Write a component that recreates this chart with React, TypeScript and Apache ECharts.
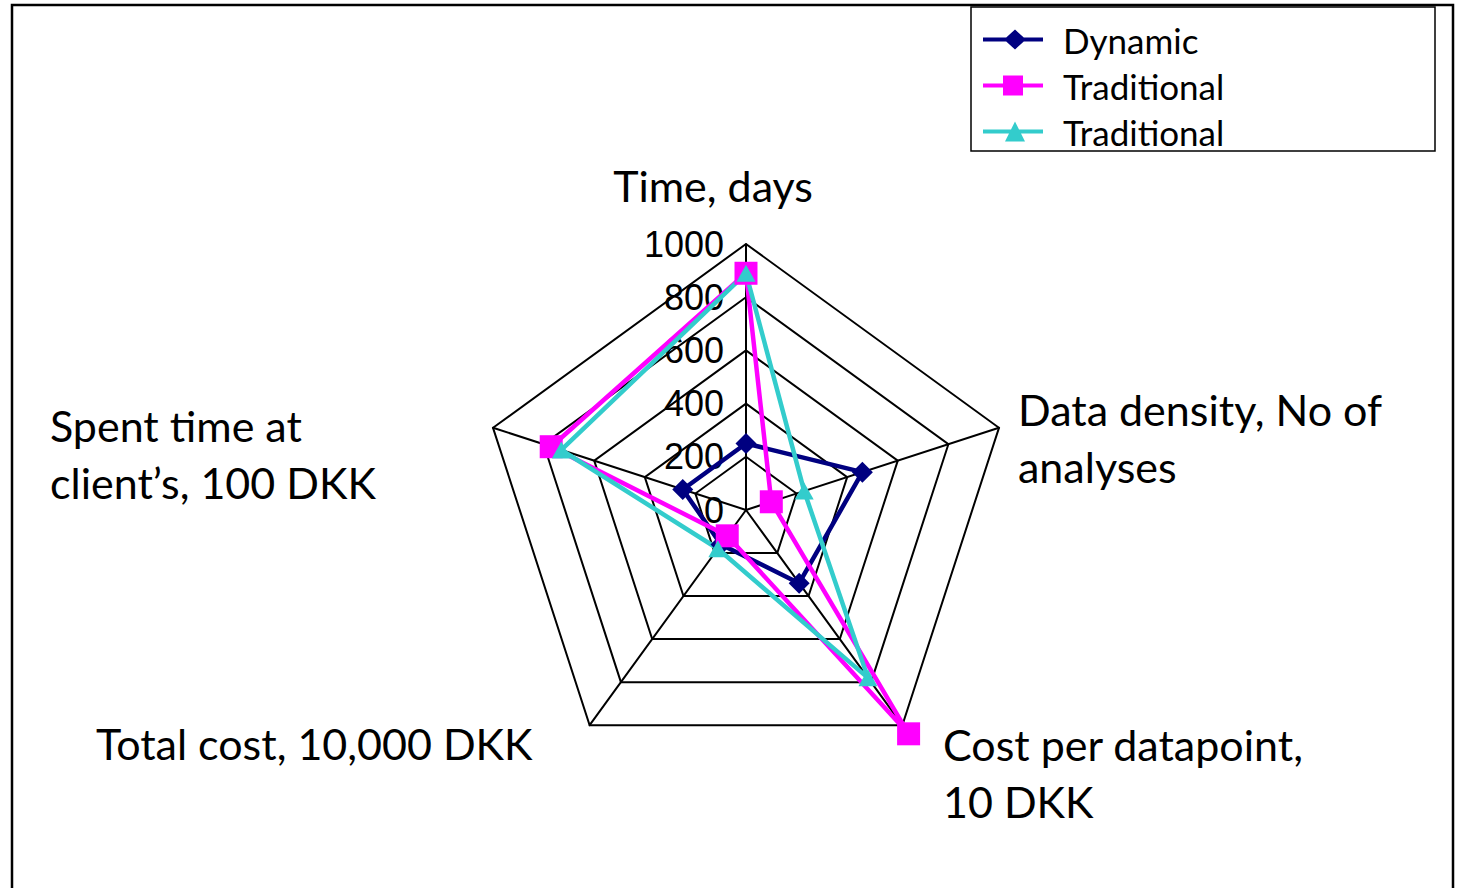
import React, { useEffect, useRef } from "react";
import * as echarts from "echarts";

// Axis names, listed clockwise starting from the top axis
const categories = [
  "Time, days",
  "Data density, No of analyses",
  "Cost per datapoint, 10 DKK",
  "Total cost, 10,000 DKK",
  "Spent time at client’s, 100 DKK",
];

// Values for each axis, same order as categories
const dynamicValues = [250, 460, 340, 160, 250];
const traditionalValues = [890, 100, 1040, 120, 770];
const traditional2Values = [890, 230, 780, 180, 730];

const seriesNames = ["Dynamic", "Traditional", "Traditional 2"];
const legendLabels = ["Dynamic", "Traditional", "Traditional"];
const seriesColors = ["#000080", "#FF00FF", "#33CCCC"];

const axisMax = 1000;
const tickLabels = ["0", "200", "400", "600", "800", "1000"];

// ECharts places radar indicators counter-clockwise; this order draws them clockwise
const drawOrder = [0, 4, 3, 2, 1];

const labelFont = "Lato, 'Open Sans', sans-serif";

export default function App() {
  const ref = useRef<HTMLDivElement>(null);

  useEffect(() => {
    document.body.style.margin = "0";
    const chart = echarts.init(ref.current!, null, { renderer: "svg" });
    const reorder = (arr: number[]) => drawOrder.map((i) => arr[i]);

    const indicator = drawOrder.map((i, k) => ({
      name: categories[i],
      max: axisMax,
      min: 0,
      ...(k === 0 ? {} : { axisLabel: { show: false } }),
    }));

    const lineIcon = (marker: string) => "path://M0,8H60V12H0Z " + marker;
    const icons = [
      lineIcon("M32,0L43,10L32,20L21,10Z"),
      lineIcon("M20,0H40V20H20Z"),
      lineIcon("M32,0L42,20H22Z"),
    ];
    const symbols = ["diamond", "rect", "triangle"];
    const symbolSizes: any[] = [21, 23, [19, 17]];
    const valueSets = [dynamicValues, traditionalValues, traditional2Values];

    const label = (text: string, x: number, y: number, align = "left") => ({
      type: "text",
      x,
      y,
      style: {
        text,
        fill: "#000",
        font: `43px ${labelFont}`,
        textAlign: align,
        textVerticalAlign: "middle",
        lineHeight: 57,
      },
    });

    chart.setOption({
      animation: false,
      backgroundColor: "#fff",
      radar: {
        center: [746, 510],
        radius: 266,
        startAngle: 90,
        splitNumber: tickLabels.length - 1,
        shape: "polygon",
        indicator,
        axisName: { show: false },
        axisLine: { lineStyle: { color: "#000", width: 2 } },
        splitLine: { lineStyle: { color: "#000", width: 2 } },
        splitArea: { show: false },
        axisTick: { show: false },
        axisLabel: {
          show: true,
          color: "#000",
          fontSize: 36,
          fontFamily: "'Liberation Sans', Arial, sans-serif",
          margin: 22,
          showMinLabel: true,
          showMaxLabel: true,
          formatter: (v: number) => String(v),
        },
      },
      legend: {
        orient: "vertical",
        left: 978,
        top: 17,
        itemWidth: 60,
        itemHeight: 20,
        itemGap: 11,
        data: seriesNames.map((name, i) => ({ name, icon: icons[i] })),
        formatter: (name: string) => legendLabels[seriesNames.indexOf(name)],
        textStyle: {
          fontSize: 35,
          fontFamily: labelFont,
          color: "#000",
          padding: [0, 0, 0, 15],
        },
      },
      series: [
        {
          type: "radar",
          data: seriesNames.map((name, i) => ({
            name,
            value: reorder(valueSets[i]),
            symbol: symbols[i],
            symbolSize: symbolSizes[i],
            itemStyle: { color: seriesColors[i] },
            lineStyle: { color: seriesColors[i], width: 4.5 },
          })),
        },
      ],
      graphic: [
        {
          type: "rect",
          shape: { x: 12, y: 5, width: 1441, height: 900 },
          style: { fill: "none", stroke: "#000", lineWidth: 2.5 },
          silent: true,
        },
        {
          type: "rect",
          shape: { x: 971, y: 7, width: 464, height: 144 },
          style: { fill: "none", stroke: "#000", lineWidth: 1.5 },
          silent: true,
        },
        label(categories[0], 713, 185, "center"),
        label("Data density, No of\nanalyses", 1018, 438),
        label("Cost per datapoint,\n10 DKK", 943, 773),
        label(categories[3], 96, 743),
        label("Spent time at\nclient’s, 100 DKK", 50, 454),
      ],
    });

    return () => chart.dispose();
  }, []);

  return (
    <div
      ref={ref}
      style={{ position: "absolute", left: 0, top: 0, width: 1459, height: 888 }}
    />
  );
}
